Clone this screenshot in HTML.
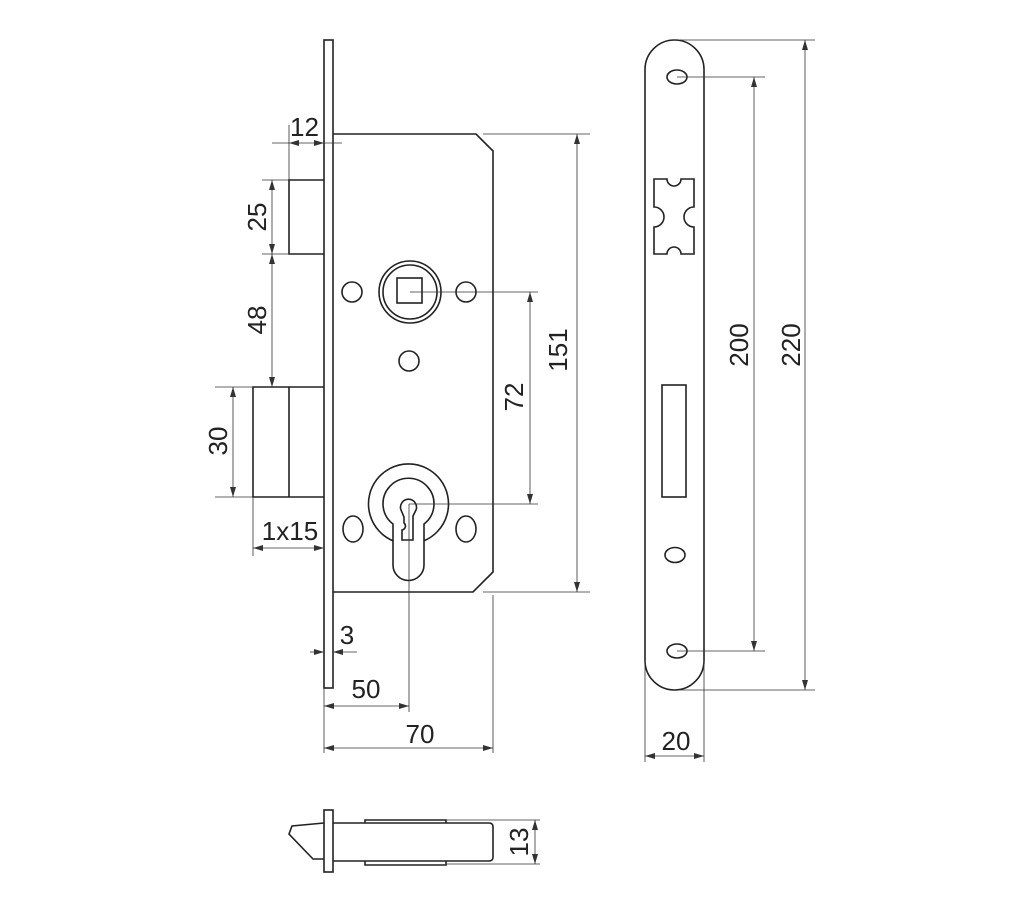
<!DOCTYPE html>
<html><head><meta charset="utf-8"><style>
html,body{margin:0;padding:0;background:#fff;}
svg{display:block;}
text{font-family:"Liberation Sans",sans-serif;font-size:26px;fill:#222;}
.m{fill:none;stroke:#222;stroke-width:1.6;}
.d{fill:none;stroke:#333;stroke-width:0.8;}
</style></head><body>
<svg width="1024" height="908" viewBox="0 0 1024 908" xmlns="http://www.w3.org/2000/svg">
<defs>
<marker id="a" viewBox="0 0 10 6" refX="10" refY="3" markerWidth="10" markerHeight="6" orient="auto-start-reverse" markerUnits="userSpaceOnUse">
<path d="M0,0 L10,3 L0,6 z" fill="#333"/></marker>
</defs>
<rect class="m" x="324" y="40" width="9" height="648"/>
<path class="m" d="M333,134 H476 L493,151 V572 L473,592 H333"/>
<path class="m" d="M324,180 H289 V254 H324"/>
<path class="m" d="M324,387 H253 V497 H324 M289,387 V497"/>
<circle class="m" cx="410" cy="292" r="31"/>
<circle class="m" cx="410" cy="292" r="27"/>
<rect class="m" x="397" y="278" width="25" height="25"/>
<circle class="m" cx="352" cy="292" r="10"/>
<circle class="m" cx="466" cy="292" r="10"/>
<circle class="m" cx="409" cy="361" r="10"/>
<path class="m" d="M393.5,541 A40,40 0 1 1 423.5,541"/>
<path class="m" d="M393,524 A25.5,25.5 0 1 1 424,524 V565 A15.5,15.5 0 0 1 393,565 Z"/>
<path class="m" d="M401,510 A8,8 0 1 1 416,510 L413,516 V540 H402 V530 A4,4 0 0 0 404,523 V517 Z"/>
<ellipse class="m" cx="353" cy="529" rx="10" ry="13"/>
<ellipse class="m" cx="466" cy="529" rx="10" ry="13"/>
<path class="d" d="M289,125 V180 M272,143 H289 M342,143 H324" />
<line class="d" x1="289" y1="143" x2="324" y2="143" marker-start="url(#a)" marker-end="url(#a)"/>
<text x="290" y="136">12</text>
<path class="d" d="M262,180 H289 M262,254 H289"/>
<line class="d" x1="272" y1="180" x2="272" y2="254" marker-start="url(#a)" marker-end="url(#a)"/>
<text transform="translate(266,217) rotate(-90)" text-anchor="middle">25</text>
<line class="d" x1="272" y1="254" x2="272" y2="387" marker-start="url(#a)" marker-end="url(#a)"/>
<text transform="translate(266,320) rotate(-90)" text-anchor="middle">48</text>
<path class="d" d="M215,387 H253 M215,497 H253"/>
<line class="d" x1="233" y1="387" x2="233" y2="497" marker-start="url(#a)" marker-end="url(#a)"/>
<text transform="translate(227,441) rotate(-90)" text-anchor="middle">30</text>
<path class="d" d="M253,497 V556"/>
<line class="d" x1="253" y1="548" x2="324" y2="548" marker-start="url(#a)" marker-end="url(#a)"/>
<text x="290" y="540" text-anchor="middle">1x15</text>
<line class="d" x1="310" y1="652" x2="324" y2="652" marker-end="url(#a)"/>
<line class="d" x1="357" y1="652" x2="333" y2="652" marker-end="url(#a)"/>
<text x="347" y="644" text-anchor="middle">3</text>
<path class="d" d="M324,688 V753 M409,504 V712 M493,595 V753"/>
<line class="d" x1="324" y1="706" x2="409" y2="706" marker-start="url(#a)" marker-end="url(#a)"/>
<text x="366" y="698" text-anchor="middle">50</text>
<line class="d" x1="324" y1="748" x2="493" y2="748" marker-start="url(#a)" marker-end="url(#a)"/>
<text x="420" y="743" text-anchor="middle">70</text>
<path class="d" d="M483,134 H590 M483,592 H590"/>
<line class="d" x1="577" y1="134" x2="577" y2="592" marker-start="url(#a)" marker-end="url(#a)"/>
<text transform="translate(567,350) rotate(-90)" text-anchor="middle">151</text>
<path class="d" d="M410,292 H538 M409,504 H538"/>
<line class="d" x1="530" y1="292" x2="530" y2="504" marker-start="url(#a)" marker-end="url(#a)"/>
<text transform="translate(523,397) rotate(-90)" text-anchor="middle">72</text>
<path class="m" d="M645,69.5 A29.5,29.5 0 0 1 704,69.5 V660.5 A29.5,29.5 0 0 1 645,660.5 Z"/>
<ellipse class="m" cx="677" cy="77" rx="10" ry="7"/>
<ellipse class="m" cx="675" cy="555" rx="10" ry="7.5"/>
<ellipse class="m" cx="677" cy="651" rx="10" ry="7"/>
<path class="m" d="M654,179 H667 A7,7 0 0 0 681,179 H694 V207 A10,10 0 0 0 694,227 V254 H681 A7,7 0 0 0 667,254 H654 V227 A10,10 0 0 0 654,207 Z"/>
<rect class="m" x="662" y="385" width="24" height="112"/>
<path class="d" d="M677,77 H765 M677,651 H765 M680,40 H815 M680,690 H815"/>
<line class="d" x1="754" y1="77" x2="754" y2="651" marker-start="url(#a)" marker-end="url(#a)"/>
<text transform="translate(748,345) rotate(-90)" text-anchor="middle">200</text>
<line class="d" x1="805" y1="40" x2="805" y2="690" marker-start="url(#a)" marker-end="url(#a)"/>
<text transform="translate(800,345) rotate(-90)" text-anchor="middle">220</text>
<path class="d" d="M645,660 V762 M704,660 V762"/>
<line class="d" x1="645" y1="756" x2="704" y2="756" marker-start="url(#a)" marker-end="url(#a)"/>
<text x="676" y="750" text-anchor="middle">20</text>
<rect class="m" x="324" y="810" width="9" height="62"/>
<path class="m" d="M324,823 L292,826 L289,834 L313,859 H324"/>
<path class="m" d="M333,823 H489 Q493,823 493,827 V857 Q493,861 489,861 H333"/>
<path class="m" d="M365,823 V820 H446 V823 M365,861 V865 H446 V861"/>
<path class="d" d="M446,820 H540 M446,864 H540"/>
<line class="d" x1="535" y1="820" x2="535" y2="864" marker-start="url(#a)" marker-end="url(#a)"/>
<text transform="translate(528,842) rotate(-90)" text-anchor="middle">13</text>
</svg>
</body></html>
